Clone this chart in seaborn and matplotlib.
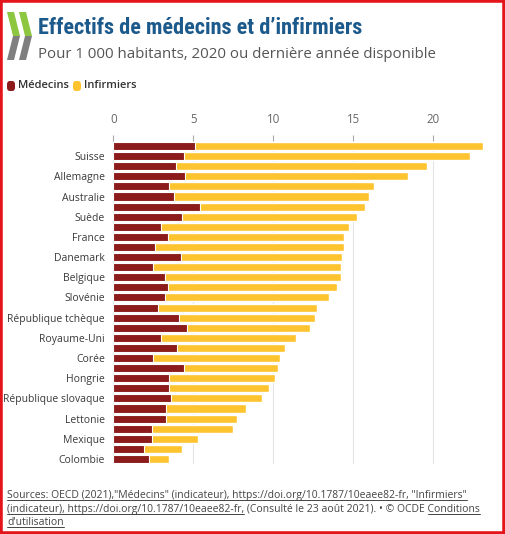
import numpy as np
import pandas as pd
import matplotlib
matplotlib.use("Agg")
import matplotlib.pyplot as plt
from matplotlib.patches import Polygon, Rectangle, FancyBboxPatch
from matplotlib.lines import Line2D
from matplotlib import font_manager
import seaborn as sns

# =========================
# DONNÉES (pour 1 000 habitants)
# =========================
pays = [
    "Norvège", "Suisse", "Islande", "Allemagne", "Finlande", "Australie",
    "Autriche", "Suède", "Luxembourg", "France", "États-Unis", "Danemark",
    "Japon", "Belgique", "Nouvelle-Zélande", "Slovénie", "Canada",
    "République tchèque", "Lituanie", "Royaume-Uni", "Italie", "Corée",
    "Espagne", "Hongrie", "Estonie", "République slovaque", "Israël",
    "Lettonie", "Pologne", "Mexique", "Turquie", "Colombie",
]
medecins = [5.1, 4.4, 3.9, 4.5, 3.5, 3.8, 5.4, 4.3, 3.0, 3.4, 2.6, 4.2,
            2.5, 3.2, 3.4, 3.2, 2.8, 4.1, 4.6, 3.0, 4.0, 2.5, 4.4, 3.5,
            3.5, 3.6, 3.3, 3.3, 2.4, 2.4, 1.9, 2.2]
infirmiers = [18.0, 17.9, 15.7, 13.9, 12.8, 12.2, 10.3, 10.9, 11.7, 11.0,
              11.8, 10.1, 11.7, 11.0, 10.6, 10.3, 9.9, 8.5, 7.7, 8.4, 6.7,
              7.9, 5.9, 6.6, 6.2, 5.7, 5.0, 4.4, 5.1, 2.9, 2.4, 1.3]
# un libellé sur deux est affiché
libelles_visibles = pays[1::2]

ROUGE = "#8c1b1b"
JAUNE = "#fdc42f"

df = pd.DataFrame({"Pays": pays, "Médecins": medecins, "Infirmiers": infirmiers})
df["Total"] = df["Médecins"] + df["Infirmiers"]

# =========================
# FIGURE
# =========================
sns.set_style("white")
plt.rcParams["font.family"] = ["Open Sans", "DejaVu Sans"]

W, H = 505, 534
fig = plt.figure(figsize=(W / 100, H / 100), dpi=100)


def fx(px):
    return px / W


def fy(py):
    return 1 - py / H


ax = fig.add_axes([fx(113.3), fy(464), 376 / W, 323 / H])

sns.barplot(data=df, y="Pays", x="Total", color=JAUNE, orient="h",
            width=0.8, saturation=1, ax=ax)
sns.barplot(data=df, y="Pays", x="Médecins", color=ROUGE, orient="h",
            width=0.8, saturation=1, edgecolor="white", linewidth=0.8, ax=ax)

ax.set_xlim(0, 23.5)
ax.set_ylim(len(pays) - 0.5, -0.5)
ax.set_xticks([0, 5, 10, 15, 20])
ax.xaxis.tick_top()
ax.tick_params(axis="x", length=4, width=0.8, color="#aaaaaa",
               labelcolor="#666666", labelsize=8.3, pad=7)
ax.set_yticks(range(len(pays)))
ax.set_yticklabels([p if p in libelles_visibles else "" for p in pays])
ax.tick_params(axis="y", length=0, pad=6, labelsize=7.5, labelcolor="#3a3a3a")
ax.grid(axis="x", color="#e4e4e4", lw=0.8)
ax.set_axisbelow(True)
ax.set_xlabel("")
ax.set_ylabel("")
for s in ax.spines.values():
    s.set_visible(False)

# =========================
# LOGO, TITRE, LÉGENDE
# =========================
def chevron(x0):
    haut = [(x0, 12), (x0 + 7, 12), (x0 + 13, 36), (x0 + 6, 36)]
    bas = [(x0 + 6, 36), (x0 + 13, 36), (x0 + 7, 60), (x0, 60)]
    for pts, c in [(haut, "#8dc63f"), (bas, "#7f7f7f")]:
        fig.patches.append(Polygon([(fx(a), fy(b)) for a, b in pts],
                                   closed=True, facecolor=c, edgecolor="none",
                                   transform=fig.transFigure, figure=fig))


chevron(7)
chevron(19)

noms = {f.name for f in font_manager.fontManager.ttflist}
etroites = [n for n in ["Roboto Condensed", "Liberation Sans Narrow",
                        "Open Sans Condensed", "DejaVu Sans Condensed"] if n in noms]
titre = fig.text(fx(38), fy(34), "Effectifs de médecins et d’infirmiers",
                 family=etroites + ["DejaVu Sans"], stretch="condensed",
                 weight="bold", fontsize=16, color="#1d5a8c", va="baseline")
# ajuster la largeur du titre à celle de la référence (~317 px)
renderer = fig.canvas.get_renderer()
w_titre = titre.get_window_extent(renderer).width
if w_titre > 325:
    titre.set_fontsize(16 * 317 / w_titre)

fig.text(fx(38), fy(58), "Pour 1 000 habitants, 2020 ou dernière année disponible",
         fontsize=10.8, color="#555555", va="baseline")

for x0, c, lab in [(7, ROUGE, "Médecins"), (73, JAUNE, "Infirmiers")]:
    fig.patches.append(FancyBboxPatch((fx(x0), fy(91)), 8 / W, 10 / H,
                                      boxstyle="round,pad=0,rounding_size=0.006",
                                      facecolor=c, edgecolor="none",
                                      transform=fig.transFigure, figure=fig))
    fig.text(fx(x0 + 11), fy(86), lab, fontsize=8, color="#333333",
             weight="semibold", va="center")

# =========================
# SOURCES (avec soulignement)
# =========================
src_kw = dict(fontsize=7.5, color="#444444", va="baseline")


def souligner(x0, x1, yb):
    fig.add_artist(Line2D([fx(x0), fx(x1)], [fy(yb + 2), fy(yb + 2)],
                          color="#444444", lw=0.7, transform=fig.transFigure))


def largeur(txt):
    t = fig.text(0, 0, txt, **src_kw)
    w = t.get_window_extent(renderer).width
    t.remove()
    return w


l1 = ('Sources: OECD (2021),"Médecins" (indicateur), '
      'https://doi.org/10.1787/10eaee82-fr, "Infirmiers"')
l2a = "(indicateur), https://doi.org/10.1787/10eaee82-fr,"
l2 = l2a + " (Consulté le 23 août 2021). • © OCDE Conditions"
l3 = "d'utilisation"

for txt, yb in [(l1, 498), (l2, 512), (l3, 525)]:
    t = fig.text(fx(7), fy(yb), txt, **src_kw)
    bb = t.get_window_extent(renderer)
    if txt == l2:
        souligner(7, 7 + largeur(l2a), yb)
        souligner(bb.x1 - largeur("Conditions"), bb.x1, yb)
    else:
        souligner(7, bb.x1, yb)

# cadre rouge
fig.patches.append(Rectangle((0, 0), 1, 1, fill=False, edgecolor="#e3151a",
                             lw=4, transform=fig.transFigure, figure=fig))

fig.savefig("out.png", dpi=100)
